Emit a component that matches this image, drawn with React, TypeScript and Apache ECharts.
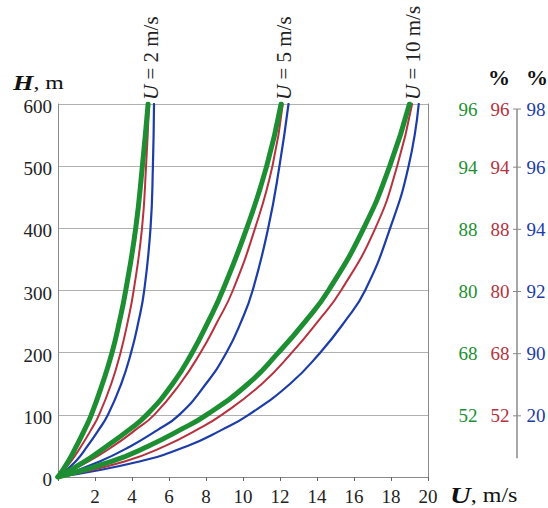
import React, { useEffect, useRef } from "react";
import * as echarts from "echarts";

// Heights (m) at which the profiles were read
const hLevels = [0, 25, 50, 75, 100, 150, 200, 250, 300, 400, 500, 600];

// U = 2 m/s group (wind speed, m/s)
const u2Green = [0, 0.55, 1.0, 1.42, 1.8, 2.4, 2.92, 3.32, 3.66, 4.2, 4.56, 4.87];
const u2Red = [0, 0.7, 1.26, 1.77, 2.22, 2.88, 3.38, 3.77, 4.09, 4.54, 4.76, 4.92];
const u2Blue = [0, 0.95, 1.6, 2.18, 2.7, 3.42, 3.95, 4.35, 4.66, 5.0, 5.13, 5.19];

// U = 5 m/s group
const u5Green = [0, 1.45, 2.65, 3.8, 4.8, 6.2, 7.25, 8.12, 8.9, 10.2, 11.28, 12.06];
const u5Red = [0, 1.65, 3.0, 4.15, 5.2, 6.6, 7.7, 8.62, 9.45, 10.65, 11.59, 12.15];
const u5Blue = [0, 2.25, 3.95, 5.35, 6.55, 8.0, 9.1, 9.9, 10.52, 11.36, 11.97, 12.46];

// U = 10 m/s group
const u10Green = [0, 2.9, 4.9, 6.55, 8.03, 10.28, 11.91, 13.36, 14.62, 16.52, 17.93, 19.0];
const u10Red = [0, 3.6, 5.8, 7.45, 8.85, 11.03, 12.64, 14.04, 15.3, 17.15, 18.33, 19.14];
const u10Blue = [0, 4.4, 7.0, 8.8, 10.3, 12.55, 14.17, 15.5, 16.6, 17.95, 18.95, 19.5];

// Curve labels
const groupLabels = ["2", "5", "10"];
const groupLabelX = [5.0, 12.2, 19.2];

// Right-hand percentage scale
const rightH = [600, 500, 400, 300, 200, 100];
const greenPct = ["96", "94", "88", "80", "68", "52"];
const redPct = ["96", "94", "88", "80", "68", "52"];
const bluePct = ["98", "96", "94", "92", "90", "20"];

const GREEN = "#1d8f32";
const RED = "#b5323e";
const BLUE = "#1c3ca8";
const FONT = "Liberation Serif";

const mk = (arr: number[], color: string, width: number, z: number) => ({
  type: "line",
  data: hLevels.map((h, i) => [arr[i], h]),
  smooth: 0.5,
  showSymbol: false,
  symbol: "none",
  z,
  lineStyle: { color, width, cap: "round" },
});

const serif = (size: number, fill: string, extra: any = {}) => ({
  fontFamily: FONT,
  fontSize: size,
  color: fill,
  fill,
  ...extra,
});

export default function App() {
  const ref = useRef<HTMLDivElement>(null);
  useEffect(() => {
    document.body.style.margin = "0";
    if (!ref.current) return;
    const chart = echarts.init(ref.current, null, { renderer: "svg" });
    chart.setOption({
      animation: false,
      backgroundColor: "#ffffff",
      textStyle: { fontFamily: FONT },
      grid: { left: 58, top: 104, width: 370, height: 373 },
      xAxis: {
        type: "value",
        min: 0,
        max: 20,
        interval: 2,
        axisLine: { show: true, lineStyle: { color: "#8a8a8a", width: 1 } },
        axisTick: { show: true, inside: false, length: 4, lineStyle: { color: "#666" } },
        splitLine: { show: false },
        axisLabel: {
          margin: 10,
          formatter: (v: number) => (v === 0 ? "" : "{s|" + v + "}"),
          rich: { s: serif(19, "#222") },
        },
      },
      yAxis: [
        {
          type: "value",
          min: 0,
          max: 600,
          interval: 100,
          axisLine: { show: true, lineStyle: { color: "#8a8a8a", width: 1 } },
          axisTick: { show: false },
          splitLine: { show: true, lineStyle: { color: "#b0b0b0", width: 1 } },
          axisLabel: {
            margin: 6,
            formatter: (v: number) => "{s|" + v + "}",
            rich: { s: serif(19, "#222", { padding: [5, 0, 0, 0] }) },
          },
        },
        {
          type: "value",
          min: 0,
          max: 600,
          interval: 100,
          position: "right",
          axisLine: { show: true, lineStyle: { color: "#8a8a8a", width: 1 } },
          axisTick: { show: false },
          splitLine: { show: false },
          axisLabel: { show: false },
        },
      ],
      series: [
        mk(u2Blue, BLUE, 2.2, 2),
        mk(u2Red, RED, 2, 3),
        mk(u2Green, GREEN, 5, 4),
        mk(u5Blue, BLUE, 2.2, 2),
        mk(u5Red, RED, 2, 3),
        mk(u5Green, GREEN, 5, 4),
        mk(u10Blue, BLUE, 2.2, 2),
        mk(u10Red, RED, 2, 3),
        mk(u10Green, GREEN, 5, 4),
      ],
    });

    const yPx = (h: number) => chart.convertToPixel({ yAxisIndex: 0 }, h) as number;
    const xPx = (u: number) => chart.convertToPixel({ xAxisIndex: 0 }, u) as number;

    const graphics: any[] = [];
    graphics.push({
      type: "text",
      x: 13,
      y: 83,
      scaleX: 1.25,
      style: {
        text: "{h|H}{m|, m}",
        textVerticalAlign: "middle",
        rich: {
          h: serif(21, "#111", { fontStyle: "italic", fontWeight: "bold" }),
          m: serif(19, "#111"),
        },
      },
    });
    graphics.push({
      type: "text",
      x: 450,
      y: 495,
      scaleX: 1.2,
      style: {
        text: "{u|U}{m|, m/s}",
        textVerticalAlign: "middle",
        rich: {
          u: serif(24, "#111", { fontStyle: "italic", fontWeight: "bold" }),
          m: serif(20, "#111"),
        },
      },
    });
    groupLabels.forEach((g, i) => {
      graphics.push({
        type: "text",
        x: xPx(groupLabelX[i]),
        y: 100,
        rotation: Math.PI / 2,
        style: {
          text: "{u|U}{t| = " + g + " m/s}",
          textAlign: "left",
          textVerticalAlign: "middle",
          rich: {
            u: serif(21, "#222", { fontStyle: "italic" }),
            t: serif(21, "#222"),
          },
        },
      });
    });
    const top = yPx(600) + 5;
    const bottom = yPx(30);
    graphics.push({
      type: "line",
      shape: { x1: 517, y1: top, x2: 517, y2: bottom },
      style: { stroke: "#8a8a8a", lineWidth: 1.5 },
    });
    const txt = (x: number, y: number, text: string, fill: string) => ({
      type: "text",
      x,
      y,
      style: {
        text: "{s|" + text + "}",
        textAlign: "center",
        textVerticalAlign: "middle",
        rich: { s: serif(19, fill) },
      },
    });
    rightH.forEach((h, i) => {
      const y = yPx(h) + (i === 0 ? 5 : 1);
      graphics.push({
        type: "line",
        shape: { x1: 513, y1: y, x2: 521, y2: y },
        style: { stroke: "#8a8a8a", lineWidth: 1 },
      });
      graphics.push(txt(468, y, greenPct[i], GREEN));
      graphics.push(txt(500, y, redPct[i], RED));
      graphics.push(txt(536, y, bluePct[i], BLUE));
    });
    const pct = (x: number) => ({
      type: "text",
      x,
      y: 77,
      style: {
        text: "{s|%}",
        textAlign: "center",
        textVerticalAlign: "middle",
        rich: { s: serif(22, "#111", { fontWeight: "bold" }) },
      },
    });
    graphics.push(pct(499));
    graphics.push(pct(537));
    chart.setOption({ graphic: graphics });

    return () => chart.dispose();
  }, []);
  return <div ref={ref} style={{ width: 548, height: 508 }} />;
}
